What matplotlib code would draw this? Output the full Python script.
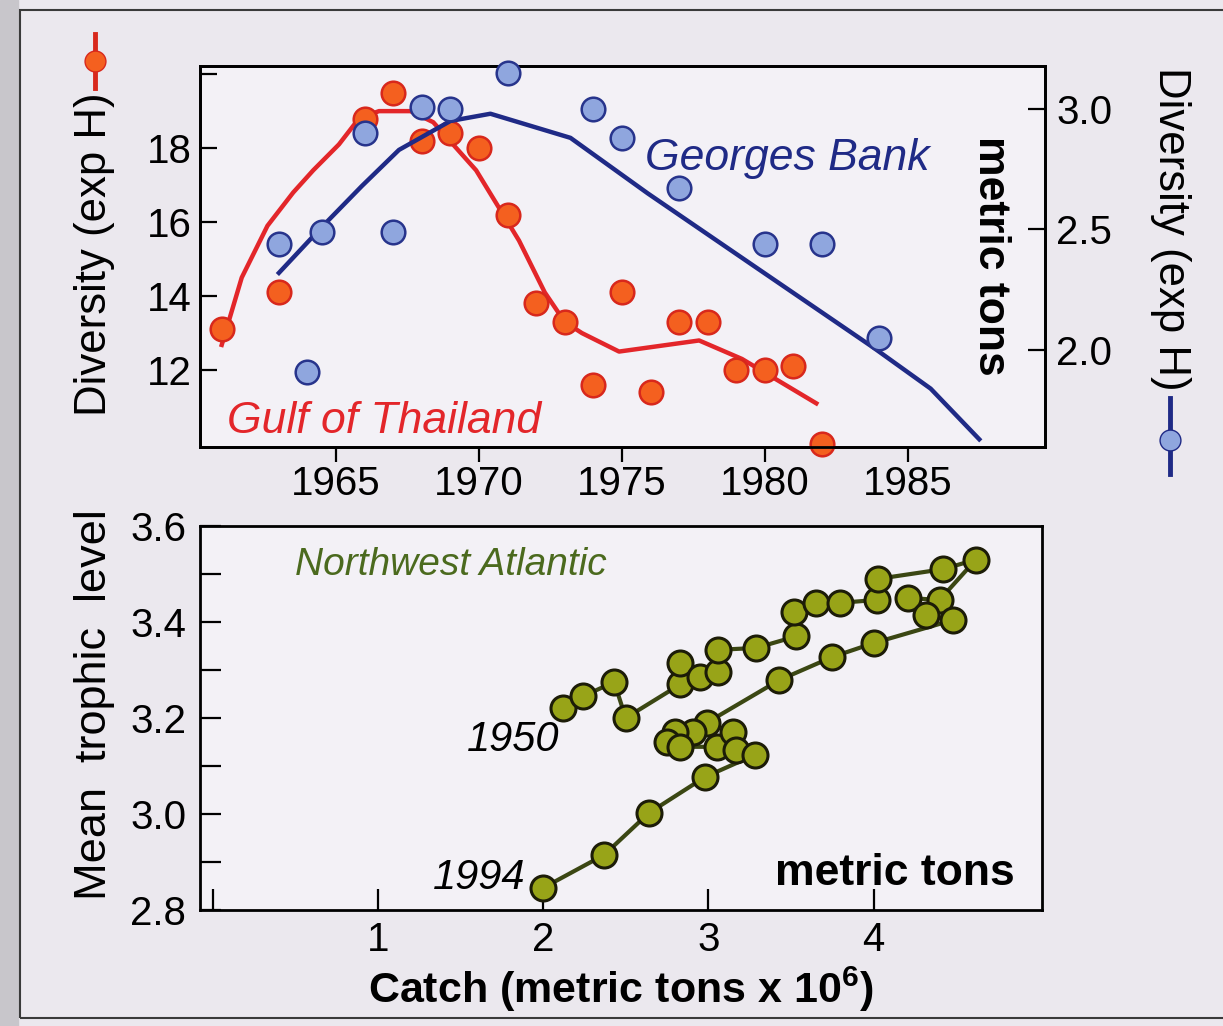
import matplotlib.pyplot as plt
from matplotlib.lines import Line2D
from matplotlib.patches import Rectangle

plt.rcParams['font.family'] = ['Liberation Sans', 'DejaVu Sans']
plt.rcParams['mathtext.fontset'] = 'custom'
plt.rcParams['mathtext.rm'] = 'Liberation Sans:bold'
plt.rcParams['mathtext.it'] = 'Liberation Sans:bold'

# ---- top panel: Gulf of Thailand (left axis) ----
thai_year = [1961, 1963, 1966, 1967, 1968, 1969, 1970, 1971, 1972, 1973,
             1974, 1975, 1976, 1977, 1978, 1979, 1980, 1981, 1982]
thai_div = [13.1, 14.1, 18.8, 19.5, 18.2, 18.4, 18.0, 16.2, 13.8, 13.3,
            11.6, 14.1, 11.4, 13.3, 13.3, 12.0, 12.0, 12.1, 10.0]
thai_fit_year = [1961.0, 1961.7, 1962.6, 1963.5, 1964.2, 1965.1, 1965.8, 1966.5, 1967.6,
                 1968.4, 1969.9, 1971.4, 1972.3, 1973.0, 1973.6, 1974.9, 1977.7, 1979.2, 1981.8]
thai_fit = [12.68, 14.5, 15.9, 16.8, 17.4, 18.1, 18.8, 19.0, 19.0,
            18.7, 17.4, 15.5, 14.1, 13.3, 13.0, 12.5, 12.8, 12.3, 11.1]

# ---- top panel: Georges Bank (right axis) ----
gb_year = [1963, 1964, 1964.5, 1966, 1967, 1968, 1969, 1971, 1974, 1975, 1977, 1980, 1982, 1984]
gb_div = [2.44, 1.91, 2.49, 2.90, 2.49, 3.01, 3.00, 3.15, 3.00, 2.88, 2.67, 2.44, 2.44, 2.05]
gb_fit_year = [1963.0, 1964.5, 1965.9, 1967.2, 1969.0, 1970.4, 1973.2, 1975.9,
               1979.6, 1983.8, 1985.8, 1987.5]
gb_fit = [2.32, 2.51, 2.68, 2.83, 2.95, 2.98, 2.88, 2.65, 2.35, 2.01, 1.84, 1.63]

# ---- bottom panel: Northwest Atlantic, 1950 -> 1994 ----
nwa_catch = [2.12, 2.24, 2.43, 2.50, 2.83, 2.83, 2.95, 3.06, 3.06, 3.29, 3.53, 3.52, 3.65,
             3.80, 4.02, 4.03, 4.42, 4.62, 4.40, 4.21, 4.32, 4.48, 4.00, 3.75, 3.43, 2.99,
             2.91, 2.80, 2.75, 2.83, 3.05, 3.15, 3.17, 3.28, 2.98, 2.64, 2.37, 2.00]
nwa_tl = [3.22, 3.245, 3.275, 3.20, 3.27, 3.315, 3.285, 3.296, 3.342, 3.346, 3.37, 3.42, 3.44,
          3.44, 3.446, 3.49, 3.51, 3.53, 3.446, 3.45, 3.415, 3.404, 3.356, 3.327, 3.279, 3.19,
          3.17, 3.17, 3.15, 3.14, 3.14, 3.17, 3.133, 3.123, 3.077, 3.002, 2.915, 2.846]

red_fill, red_edge, red_line = '#f4601f', '#d8281c', '#e3262a'
blue_fill, blue_edge, blue_line = '#8fa6de', '#27348c', '#1f2a86'
grn_fill, grn_edge, grn_line = '#98a418', '#1c1c08', '#3b4713'

W, H = 1223, 1026
fig = plt.figure(figsize=(W / 100, H / 100), dpi=100)
fig.patch.set_facecolor('#ebe8ee')

# scanned page frame
fig.add_artist(Rectangle((0, 0), 18 / W, 1, transform=fig.transFigure,
                         color='#c8c6cb', zorder=0))
fig.add_artist(Rectangle((20 / W, 8 / H), 1.0, 1 - 18 / H, transform=fig.transFigure,
                         fill=False, edgecolor='#3a3a3a', lw=1.5, zorder=0))

# ---------------- top panel ----------------
ax = fig.add_axes([200 / W, 1 - 447 / H, 845 / W, 381 / H])
ax.set_facecolor('#f3f1f6')
ax2 = ax.twinx()

ax.plot(thai_fit_year, thai_fit, color=red_line, lw=3.2, zorder=2)
ax.plot(thai_year, thai_div, 'o', ms=17, mfc=red_fill, mec=red_edge, mew=1.8,
        zorder=3, clip_on=False)
ax2.plot(gb_fit_year, gb_fit, color=blue_line, lw=3.2, zorder=2)
ax2.plot(gb_year, gb_div, 'o', ms=17, mfc=blue_fill, mec=blue_edge, mew=1.8,
         zorder=3, clip_on=False)

ax.set_xlim(1960.24, 1989.8)
ax.set_ylim(9.92, 20.22)
ax2.set_ylim(1.598, 3.178)
ax.set_xticks([1965, 1970, 1975, 1980, 1985])
ax.set_yticks([12, 14, 16, 18, 20])
ax.set_yticklabels(['12', '14', '16', '18', ''])
ax2.set_yticks([2.0, 2.5, 3.0])
ax2.set_yticklabels(['2.0', '2.5', '3.0'])

ax.tick_params(axis='y', direction='in', length=12, width=1.6, labelsize=29, pad=6)
ax.tick_params(axis='x', direction='out', length=11, width=1.6, labelsize=29, pad=2)
ax2.tick_params(axis='y', direction='in', length=12, width=1.6, labelsize=29, pad=8)
for a in (ax, ax2):
    for s in a.spines.values():
        s.set_linewidth(2)

ax.text(1961.2, 10.6, 'Gulf of Thailand', color=red_line, fontsize=32,
        style='italic', ha='left', va='center')
ax.text(1975.8, 17.73, 'Georges Bank', color=blue_line, fontsize=32,
        style='italic', ha='left', va='center')
ax.text(1987.9, 15.1, 'metric tons', color='black', fontsize=32, fontweight='bold',
        rotation=-90, ha='center', va='center')

# axis labels with series symbols
fig.text(95 / W, 1 - 92 / H, 'Diversity (exp H)', fontsize=31.5, rotation=90,
         ha='center', va='top')
fig.add_artist(Line2D([95 / W] * 3, [1 - 34 / H, 1 - 61 / H, 1 - 88 / H],
                      transform=fig.transFigure, color=red_edge, lw=3.5,
                      marker='o', markevery=[1], ms=15, mfc=red_fill, mec=red_edge))
fig.text(1170 / W, 1 - 67 / H, 'Diversity (exp H)', fontsize=31.5, rotation=-90,
         ha='center', va='top')
fig.add_artist(Line2D([1170 / W] * 3, [1 - 398 / H, 1 - 440 / H, 1 - 474 / H],
                      transform=fig.transFigure, color=blue_line, lw=3.5,
                      marker='o', markevery=[1], ms=15, mfc=blue_fill, mec=blue_line))

# ---------------- bottom panel ----------------
axb = fig.add_axes([200 / W, 1 - 910 / H, 842 / W, 384 / H])
axb.set_facecolor('#f3f1f6')
axb.plot(nwa_catch, nwa_tl, '-', color=grn_line, lw=3, zorder=2)
axb.plot(nwa_catch, nwa_tl, 'o', ms=18, mfc=grn_fill, mec=grn_edge, mew=2.2,
         zorder=3, clip_on=False)

axb.set_xlim(-0.077, 5.02)
axb.set_ylim(2.8, 3.6)
axb.set_xticks([0, 1, 2, 3, 4])
axb.set_xticklabels(['', '1', '2', '3', '4'])
axb.set_yticks([2.8, 3.0, 3.2, 3.4, 3.6])
axb.set_yticklabels(['2.8', '3.0', '3.2', '3.4', '3.6'])
axb.set_yticks([2.9, 3.1, 3.3, 3.5], minor=True)
axb.tick_params(axis='both', which='both', direction='in', length=15, width=1.6,
                labelsize=29)
axb.tick_params(axis='y', pad=10)
axb.tick_params(axis='x', pad=8)
for s in axb.spines.values():
    s.set_linewidth(2)

axb.set_xlabel(r'Catch (metric tons x 10$^6$)', fontsize=31, fontweight='bold',
               labelpad=4)
fig.text(95 / W, 1 - 705 / H, 'Mean  trophic  level', fontsize=32.5, rotation=90,
         ha='center', va='center')

axb.text(0.50, 3.519, 'Northwest Atlantic', color='#4b6a1e', fontsize=28,
         style='italic', ha='left', va='center')
axb.text(2.10, 3.154, '1950', fontsize=30, style='italic', ha='right', va='center')
axb.text(1.89, 2.867, '1994', fontsize=30, style='italic', ha='right', va='center')
axb.text(4.855, 2.877, 'metric tons', fontsize=32, fontweight='bold',
         ha='right', va='center')

fig.savefig('out.png', dpi=100, facecolor=fig.get_facecolor())
